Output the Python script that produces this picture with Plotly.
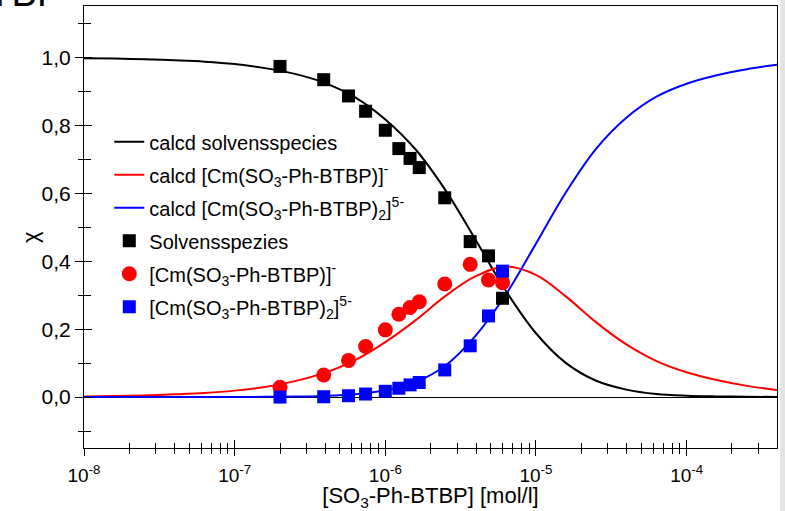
import plotly.graph_objects as go

# ---------------- data ----------------
calc_log_conc = [-8.0, -7.8, -7.6, -7.4, -7.2, -7.0, -6.8, -6.6, -6.4, -6.2, -6.0, -5.8,
                 -5.6, -5.4, -5.2, -5.0, -4.8, -4.6, -4.4, -4.2, -4.0, -3.8, -3.6, -3.4]
calc_solv = [0.998, 0.997, 0.995, 0.992, 0.988, 0.981, 0.969, 0.952, 0.925, 0.883, 0.818, 0.730,
             0.609, 0.463, 0.313, 0.188, 0.100, 0.048, 0.022, 0.009, 0.004, 0.002, 0.001, 0.0003]
calc_ml1 = [0.002, 0.003, 0.005, 0.008, 0.012, 0.019, 0.030, 0.047, 0.072, 0.109, 0.162, 0.226,
            0.298, 0.356, 0.385, 0.360, 0.296, 0.220, 0.155, 0.106, 0.073, 0.050, 0.033, 0.021]
calc_ml2 = [0.0, 0.0, 0.0, 0.0, 0.0001, 0.0002, 0.0006, 0.0015, 0.0035, 0.0085, 0.020, 0.044,
            0.093, 0.181, 0.302, 0.452, 0.604, 0.732, 0.823, 0.885, 0.923, 0.948, 0.966, 0.979]

exp_conc = [2.0e-7, 3.9e-7, 5.7e-7, 7.4e-7, 1.0e-6, 1.23e-6, 1.46e-6, 1.68e-6, 2.48e-6,
            3.66e-6, 4.84e-6, 6.0e-6]
exp_solv = [0.974, 0.935, 0.887, 0.842, 0.786, 0.732, 0.703, 0.676, 0.587, 0.458, 0.416, 0.291]
exp_ml1 = [0.029, 0.065, 0.108, 0.149, 0.198, 0.244, 0.264, 0.281, 0.333, 0.391, 0.345, 0.337]
exp_ml2 = [0.000, 0.001, 0.004, 0.009, 0.017, 0.026, 0.036, 0.043, 0.080, 0.151, 0.239, 0.371]

x_major = [1e-8, 1e-7, 1e-6, 1e-5, 1e-4]
x_major_text = ["10<sup>-8</sup>", "10<sup>-7</sup>", "10<sup>-6</sup>", "10<sup>-5</sup>", "10<sup>-4</sup>"]

names = ["calcd solvensspecies",
         "calcd [Cm(SO<sub>3</sub>-Ph-BTBP)]<sup>-</sup>",
         "calcd [Cm(SO<sub>3</sub>-Ph-BTBP)<sub>2</sub>]<sup>5-</sup>",
         "Solvensspezies",
         "[Cm(SO<sub>3</sub>-Ph-BTBP)]<sup>-</sup>",
         "[Cm(SO<sub>3</sub>-Ph-BTBP)<sub>2</sub>]<sup>5-</sup>"]

calc_conc = [10 ** v for v in calc_log_conc]
x_minor = [m * 10.0 ** e for e in range(-8, -3) for m in range(2, 10) if m * 10.0 ** e <= 4e-4]

FONT = "Liberation Sans, Arial, sans-serif"

fig = go.Figure()
for i, (ys, col) in enumerate([(calc_solv, "#000000"), (calc_ml1, "#ff0000"), (calc_ml2, "#0000ff")]):
    fig.add_trace(go.Scatter(x=calc_conc, y=ys, mode="lines", name=names[i], legendgroup=f"g{i}",
                             line=dict(color=col, width=2, shape="spline", smoothing=1.0)))

fig.add_trace(go.Scatter(x=exp_conc, y=exp_solv, mode="markers", name=names[3], legendgroup="g3",
                         marker=dict(symbol="square", size=13, color="#000000")))
fig.add_trace(go.Scatter(x=exp_conc, y=exp_ml1, mode="markers", name=names[4], legendgroup="g4",
                         marker=dict(symbol="circle", size=15, color="#ff0000")))
fig.add_trace(go.Scatter(x=exp_conc, y=exp_ml2, mode="markers", name=names[5], legendgroup="g5",
                         marker=dict(symbol="square", size=13, color="#0000ff")))
# helper trace so the overlay axes (inside ticks) are drawn
fig.add_trace(go.Scatter(x=[1e-8], y=[-1], xaxis="x2", yaxis="y2", mode="markers",
                         marker=dict(opacity=0), showlegend=False, hoverinfo="skip"))

XR = [-8, -3.4]
YR = [-0.15, 1.152]

fig.update_layout(
    width=785, height=511,
    margin=dict(l=84, r=8, t=6, b=63),
    paper_bgcolor="white", plot_bgcolor="white",
    separators=",.",
    font=dict(family=FONT, color="black", size=20),
    showlegend=True,
    legend=dict(x=0.0365, y=0.737, xanchor="left", yanchor="top",
                bgcolor="rgba(0,0,0,0)", font=dict(size=20, family=FONT),
                traceorder="grouped", tracegroupgap=4),
    xaxis=dict(type="log", range=XR, showgrid=False, zeroline=False,
               showline=True, linecolor="black", linewidth=1, mirror=True,
               tickmode="array", tickvals=x_major, ticktext=x_major_text,
               ticks="outside", ticklen=7, tickcolor="black", tickwidth=1,
               ticklabelstandoff=3,
               tickfont=dict(size=19, family=FONT),
               minor=dict(tickmode="array", tickvals=x_minor, ticks="outside",
                          ticklen=5, tickcolor="black", tickwidth=1, showgrid=False),
               title=dict(text="[SO<sub>3</sub>-Ph-BTBP] [mol/l]",
                          font=dict(size=22, family=FONT), standoff=2)),
    xaxis2=dict(type="log", range=XR, overlaying="x", anchor="y", side="bottom",
                showgrid=False, zeroline=False, showline=False, showticklabels=False,
                tickmode="array", tickvals=x_major,
                ticks="inside", ticklen=8, tickcolor="black", tickwidth=1,
                minor=dict(tickmode="array", tickvals=x_minor, ticks="inside",
                           ticklen=5, tickcolor="black", tickwidth=1, showgrid=False)),
    yaxis=dict(range=YR, showgrid=False, zeroline=True, zerolinecolor="black",
               zerolinewidth=1, showline=True, linecolor="black", linewidth=1,
               mirror=True, tick0=0, dtick=0.2, tickformat=".1f",
               ticks="outside", ticklen=8, tickcolor="black", tickwidth=1,
               tickfont=dict(size=21, family=FONT),
               minor=dict(dtick=0.1, ticks="outside", ticklen=5, tickcolor="black",
                          tickwidth=1, showgrid=False)),
    yaxis2=dict(range=YR, overlaying="y", anchor="x", side="left", showgrid=False,
                zeroline=False, showline=False, showticklabels=False,
                tick0=0, dtick=0.2, ticks="inside", ticklen=8, tickcolor="black",
                tickwidth=1,
                minor=dict(dtick=0.1, ticks="inside", ticklen=7, tickcolor="black",
                           tickwidth=1, showgrid=False)),
)

# y-axis symbol
fig.add_annotation(text="χ", xref="paper", yref="paper", x=-0.078, y=0.477,
                   xanchor="center", yanchor="middle", textangle=-90, showarrow=False,
                   font=dict(size=22, family=FONT, color="black"))
# cut-off title fragment at the top left and the grey strip at the right edge
fig.add_annotation(text="BTBP", xref="paper", yref="paper", x=-0.029, y=1.030,
                   xanchor="right", yanchor="middle", showarrow=False,
                   font=dict(size=38, family=FONT, color="black"))
fig.add_shape(type="rect", xref="paper", yref="paper", x0=1.0045, x1=1.02, y0=-0.2, y1=1.02,
              fillcolor="#e4e4e4", line=dict(width=0), layer="below")

fig.write_html("out.html")
